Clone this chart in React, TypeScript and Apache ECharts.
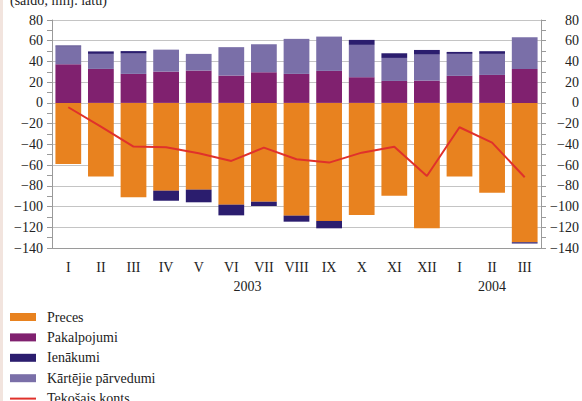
import React, { useEffect, useRef } from "react";
import * as echarts from "echarts";

const categories = ["I", "II", "III", "IV", "V", "VI", "VII", "VIII", "IX", "X", "XI", "XII", "I", "II", "III"];
const years = [
  { label: "2003", from: 5, to: 6 },
  { label: "2004", from: 13, to: 13 },
];
const preces = [-59, -71, -91, -84.7, -83.7, -98.2, -95.3, -108.8, -113.9, -108.1, -89.5, -121, -71.1, -86.6, -134.5];
const pakalpojumi = [37.4, 32.8, 28, 30.2, 31.2, 26.4, 29.6, 28, 30.9, 24.8, 21.2, 21.5, 26.1, 27, 32.8];
const ienakumi = [1.0, 2.4, 2.4, -9.7, -12.2, -10.3, -4.2, -5.8, -7.1, 4.8, 4.5, 4.5, 1.9, 2.6, -1.2];
const kartejie = [17, 14.5, 19.6, 21.2, 16.1, 27.4, 27, 33.8, 33.1, 31.2, 22.2, 25.1, 21.2, 20.3, 30.6];
const tekosais = [-4.2, -22.8, -42.1, -42.8, -48.6, -56, -43.1, -54.4, -57.6, -48, -42.2, -70.5, -23.5, -38.3, -71.7];
const yMin = -140;
const yMax = 80;
const yStep = 20;

const FONT = "Liberation Serif";
const C_ORANGE = "#e8821f";
const C_PURPLE = "#80216f";
const C_NAVY = "#2b1d6e";
const C_LILAC = "#7a6fa8";
const C_RED = "#e0312b";

export default function App() {
  const ref = useRef<HTMLDivElement>(null);
  useEffect(() => {
    document.body.style.margin = "0";
    const chart = echarts.init(ref.current!, null, { renderer: "svg" });
    const fmt = (v: number) => String(v).replace("-", "\u2212");
    const axisCommon = {
      type: "value" as const,
      min: yMin,
      max: yMax,
      interval: yStep,
      axisLine: { show: true, lineStyle: { color: "#9a9a9a", width: 1 } },
      axisTick: { show: true, length: 5, lineStyle: { color: "#9a9a9a" } },
      minorTick: { show: true, splitNumber: 2, length: 5, lineStyle: { color: "#9a9a9a" } },
    };
    const labelStyle = { fontFamily: FONT, fontSize: 14, color: "#222" };
    const option: any = {
      animation: false,
      backgroundColor: "#ffffff",
      textStyle: { fontFamily: FONT },
      grid: { left: 52, right: 39, top: 20, bottom: 153, containLabel: false },
      legend: {
        orient: "vertical",
        left: 10,
        top: 310,
        height: 150,
        padding: 0,
        itemWidth: 26,
        itemHeight: 8,
        itemGap: 6.4,
        symbolKeepAspect: true,
        textStyle: { fontFamily: FONT, fontSize: 14, color: "#222", lineHeight: 14, padding: [0, 0, 0, 6] },
        data: [
          { name: "Preces", icon: "rect" },
          { name: "Pakalpojumi", icon: "rect" },
          { name: "Ienākumi", icon: "rect" },
          { name: "Kārtējie pārvedumi", icon: "rect" },
          { name: "Tekošais konts", icon: "path://M0,0H26V2H0Z" },
        ],
      },
      xAxis: {
        type: "category",
        data: categories,
        axisLine: { onZero: false, lineStyle: { color: "#9a9a9a" } },
        axisTick: { alignWithLabel: true, length: 5, lineStyle: { color: "#9a9a9a" } },
        axisLabel: { ...labelStyle, margin: 12, interval: 0 },
      },
      yAxis: [
        {
          ...axisCommon,
          position: "left",
          splitLine: { show: true, lineStyle: { color: "#c4c4c4", width: 1 } },
          axisLabel: { ...labelStyle, margin: 9, formatter: fmt },
        },
        {
          ...axisCommon,
          position: "right",
          splitLine: { show: false },
          axisLabel: { ...labelStyle, margin: 38, align: "right", formatter: fmt },
        },
      ],
      series: [
        { name: "Preces", type: "bar", stack: "a", data: preces, itemStyle: { color: C_ORANGE }, barCategoryGap: "21%" },
        { name: "Pakalpojumi", type: "bar", stack: "a", data: pakalpojumi, itemStyle: { color: C_PURPLE } },
        { name: "Kārtējie pārvedumi", type: "bar", stack: "a", data: kartejie, itemStyle: { color: C_LILAC } },
        { name: "Ienākumi", type: "bar", stack: "a", data: ienakumi, itemStyle: { color: C_NAVY } },
        {
          name: "Tekošais konts",
          type: "line",
          data: tekosais,
          symbol: "none",
          showSymbol: false,
          z: 5,
          lineStyle: { color: C_RED, width: 2 },
          itemStyle: { color: C_RED },
        },
      ],
    };
    chart.setOption(option);
    const yBottom = chart.convertToPixel({ yAxisIndex: 0 }, yMin) as number;
    const graphics: any[] = [
      { type: "rect", left: 0, top: 0, shape: { width: 3, height: 401 }, style: { fill: "#f2e4de" }, silent: true },
      {
        type: "text",
        x: 10,
        y: 7,
        style: { text: "(saldo; milj. latu)", font: `14px ${FONT}`, fill: "#222", verticalAlign: "bottom" },
      },
    ];
    years.forEach((y) => {
      const a = chart.convertToPixel({ xAxisIndex: 0 }, y.from) as number;
      const b = chart.convertToPixel({ xAxisIndex: 0 }, y.to) as number;
      graphics.push({
        type: "text",
        x: (a + b) / 2,
        y: yBottom + 38,
        style: { text: y.label, font: `14px ${FONT}`, fill: "#222", align: "center", verticalAlign: "middle" },
      });
    });
    chart.setOption({ graphic: graphics });
    return () => chart.dispose();
  }, []);
  return <div ref={ref} style={{ width: 582, height: 401 }} />;
}
